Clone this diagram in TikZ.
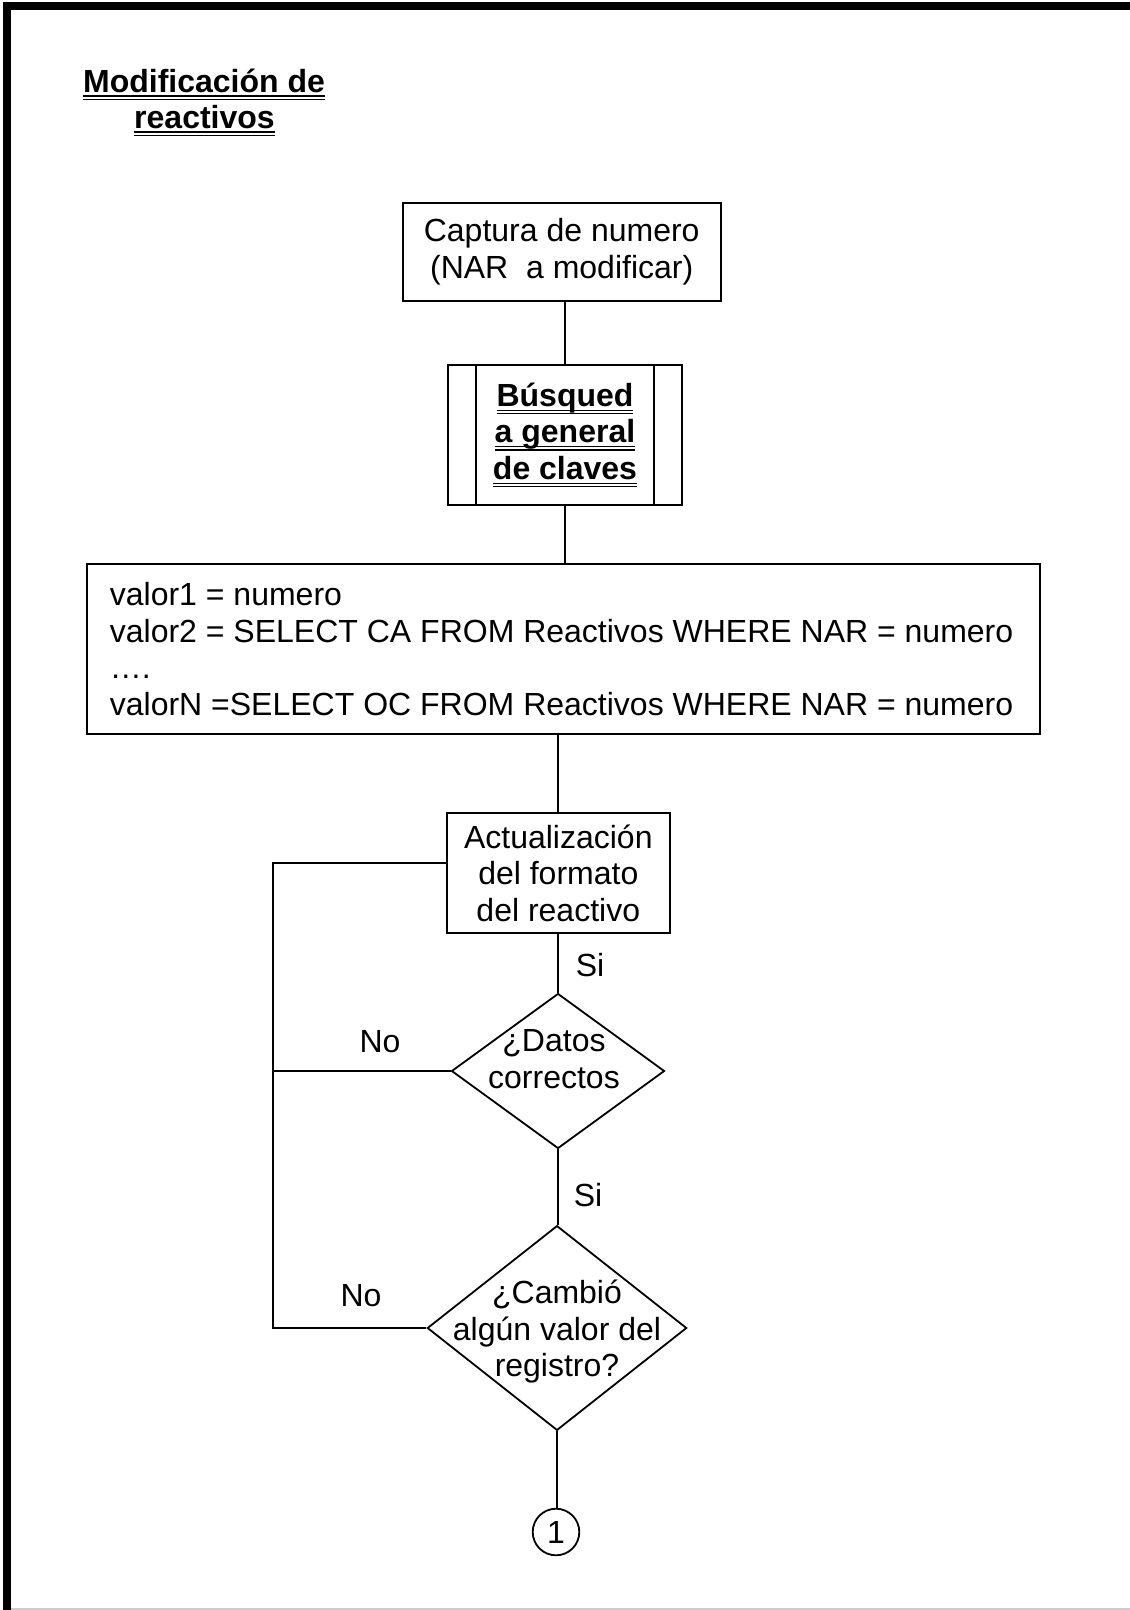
\documentclass[tikz,border=0pt]{standalone}
\usepackage{fontspec}
\setmainfont{Liberation Sans}
\usetikzlibrary{shapes.geometric,calc}

% double underline under a piece of text
\newcommand\dblul[1]{\setbox0=\hbox{#1}\leavevmode\rlap{\copy0}\rlap{\rule[-4.7pt]{\wd0}{1.4pt}}\rule[-8pt]{\wd0}{1.4pt}}

\begin{document}
\begin{tikzpicture}[x=1pt,y=-1pt,line width=1.8pt,
  every node/.style={font=\fontsize{32}{36.5}\selectfont,inner sep=0pt},
  box/.style={draw,rectangle,align=center,line width=1.8pt},
  decision/.style={draw,diamond,inner sep=0pt,line width=1.8pt},
  txt/.style={align=center},
  ttl/.style={anchor=base,font=\bfseries\fontsize{32}{36}\selectfont}]

\useasboundingbox (0,0) rectangle (1130,1610);

% page frame
\draw[line width=8pt] (1130,6) -- (7.3,6) -- (7.3,1610);
\draw[black!20,line width=1.5pt] (11.3,1609) -- (1130,1609);

% title
\node[ttl] (title1) at (204,92) {\dblul{Modificación de}};
\node[ttl] (title2) at (204.5,128) {\dblul{reactivos}};

% process steps
\node[box,minimum width=318pt,minimum height=98pt] (cap) at (561.7,251.7)
  {Captura de numero\\(NAR~~a modificar)};

\node[box,minimum width=233.4pt,minimum height=140pt,
      font=\bfseries\fontsize{32}{36.5}\selectfont] (bus) at (565,435)
  {\dblul{Búsqued}\\\dblul{a general}\\\dblul{de claves}};
\draw ([xshift=28.4pt]bus.north west) -- ([xshift=28.4pt]bus.south west);
\draw ([xshift=-28.4pt]bus.north east) -- ([xshift=-28.4pt]bus.south east);

\node[box,minimum width=953pt,minimum height=170pt] (val) at (563.5,649) {};
\node[align=left,anchor=west] (valt) at (109,649)
  {valor1 = numero\\
   valor2 = SELECT CA FROM Reactivos WHERE NAR = numero\\
   ….\\
   valorN =SELECT OC FROM Reactivos WHERE NAR = numero};

\node[box,minimum width=223.3pt,minimum height=120.6pt] (act) at (558.3,873)
  {Actualización\\del formato\\del reactivo};

% decisions
\node[decision,minimum width=213pt,minimum height=155pt] (d1) at (558,1071) {};
\node[txt] (d1t) at (554,1059) {¿Datos\\correctos};

\node[decision,minimum width=259.4pt,minimum height=204.7pt] (d2) at (557,1328) {};
\node[txt] (d2t) at (557,1332) {¿Cambió\\algún valor del\\registro?};

% connector to next page
\node[draw,circle,minimum size=46.6pt] (c1) at (556,1532) {1};

% main flow
\draw (cap.south -| bus.north) -- (bus.north);
\draw (bus.south) -- (bus.south |- val.north);
\draw (val.south -| act.north) -- (act.north);
\draw (act.south -| d1.north) -- (d1.north);
\draw (d1.south) -- (d1.south |- d2.north);
\draw (d2.south) -- (d2.south |- c1.north);

% return loop
\coordinate (lx) at (272.7,0);
\draw ([yshift=10pt]act.west) -- ([yshift=10pt]act.west -| lx) |- (d2.west);
\draw (d1.west) -- (d1.west -| lx);

% branch labels
\node (si1) at (590,965) {Si};
\node (si2) at (588,1195) {Si};
\node (no1) at (380,1042) {No};
\node (no2) at (361,1296) {No};
\end{tikzpicture}
\end{document}
